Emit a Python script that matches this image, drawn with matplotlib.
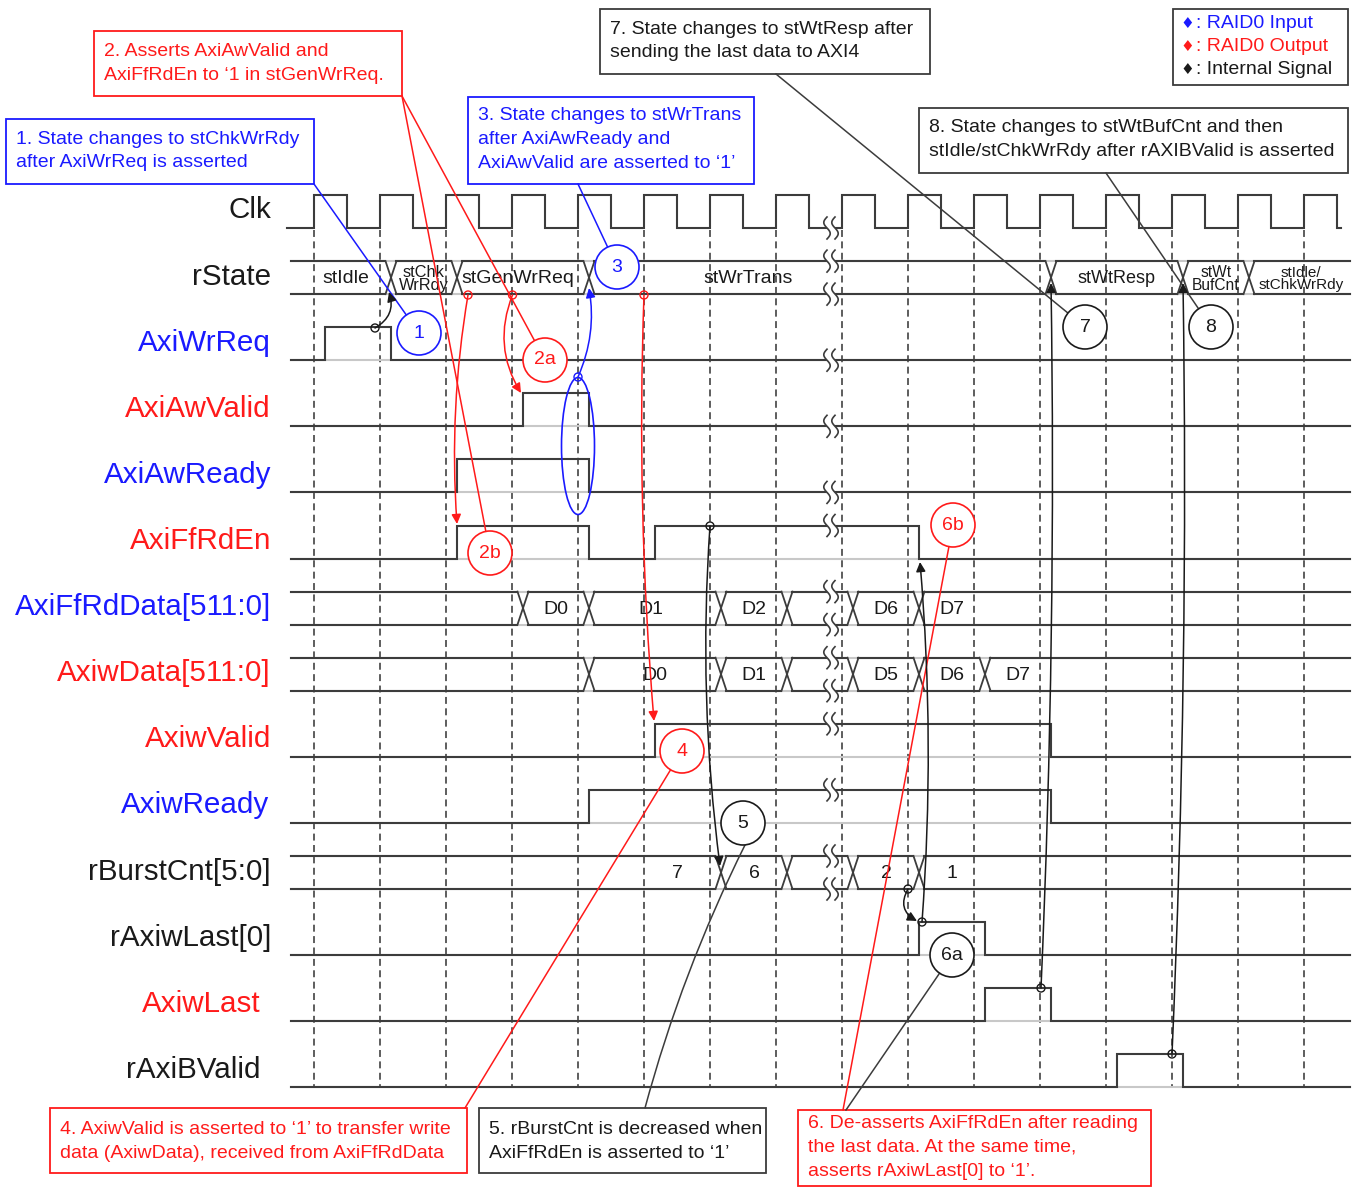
import numpy as np
import matplotlib
matplotlib.use('Agg')
import matplotlib.pyplot as plt
from matplotlib.patches import Ellipse, Circle, Rectangle, FancyArrowPatch, Polygon

plt.rcParams['font.family'] = ['Liberation Sans', 'DejaVu Sans']
plt.rcParams['lines.scale_dashes'] = False

# ---------------- data ----------------
signal_names = ['Clk', 'rState', 'AxiWrReq', 'AxiAwValid', 'AxiAwReady', 'AxiFfRdEn',
                'AxiFfRdData[511:0]', 'AxiwData[511:0]', 'AxiwValid', 'AxiwReady',
                'rBurstCnt[5:0]', 'rAxiwLast[0]', 'AxiwLast', 'rAxiBValid']
signal_roles = ['int', 'int', 'in', 'out', 'in', 'out', 'in', 'out', 'out', 'in',
                'int', 'int', 'out', 'int']
n_clock_edges = 16
break_after_edge = 7

# binary signals: clock edges after which the level toggles (start low)
wrreq_toggles = [0, 1]
awvalid_toggles = [3, 4]
awready_toggles = [2, 4]
ffrden_toggles = [2, 4, 5, 9]
wvalid_toggles = [5, 11]
wready_toggles = [4, 11]
rwlast_toggles = [9, 10]
wlast_toggles = [10, 11]
bvalid_toggles = [12, 13]

# bus signals: clock edges where the value changes, and the values
state_edges = [1, 2, 4, 11, 13, 14]
state_labels = ['stIdle', 'stChk\nWrRdy', 'stGenWrReq', 'stWrTrans', 'stWtResp',
                'stWt\nBufCnt', 'stIdle/\nstChkWrRdy']
ffrd_edges = [3, 4, 6, 7, 8, 9]
ffrd_labels = ['', 'D0', 'D1', 'D2', '', 'D6', 'D7']
wdata_edges = [4, 6, 7, 8, 9, 10]
wdata_labels = ['', 'D0', 'D1', '', 'D5', 'D6', 'D7']
burst_edges = [6, 7, 8, 9]
burst_labels = ['7', '6', '', '2', '1']

legend_items = [('in', 'RAID0 Input'), ('out', 'RAID0 Output'), ('int', 'Internal Signal')]

note1 = ['1. State changes to stChkWrRdy', 'after AxiWrReq is asserted']
note2 = ['2. Asserts AxiAwValid and', 'AxiFfRdEn to \u20181 in stGenWrReq.']
note3 = ['3. State changes to stWrTrans', 'after AxiAwReady and', 'AxiAwValid are asserted to \u20181\u2019']
note4 = ['4. AxiwValid is asserted to \u20181\u2019 to transfer write', 'data (AxiwData), received from AxiFfRdData']
note5 = ['5. rBurstCnt is decreased when', 'AxiFfRdEn is asserted to \u20181\u2019']
note6 = ['6. De-asserts AxiFfRdEn after reading', 'the last data. At the same time,', 'asserts rAxiwLast[0] to \u20181\u2019.']
note7 = ['7. State changes to stWtResp after', 'sending the last data to AXI4']
note8 = ['8. State changes to stWtBufCnt and then', 'stIdle/stChkWrRdy after rAXIBValid is asserted']

# ---------------- style / layout ----------------
W, H = 1361, 1187
BLUE = '#1a1aff'
RED = '#ff1a1a'
BLACK = '#1a1a1a'
LINE = '#3c3c3c'
LIGHT = '#c8c8c8'
role_color = {'in': BLUE, 'out': RED, 'int': BLACK}

X0, P, DLY = 314, 66, 11
XL, XR = 291, 1350
Y0, ROW, HT = 228, 66.1, 33
HW = 5.5
XBRK = 831
NOTE_FS = 14.0

fig = plt.figure(figsize=(W / 100, H / 100), dpi=100)
ax = fig.add_axes([0, 0, 1, 1])
ax.set_xlim(0, W)
ax.set_ylim(H, 0)
ax.axis('off')


def ex(k):
    return X0 + P * k + DLY


def low(i):
    return Y0 + ROW * i


def high(i):
    return Y0 + ROW * i - HT


# dashed clock edge lines
for k in range(n_clock_edges):
    ax.plot([X0 + P * k] * 2, [230, 1088], color='#505050', lw=1.3,
            ls=(0, (5, 3.2)), zorder=1)

# clock
xs, ys = [287], [low(0)]
for k in range(n_clock_edges):
    xr = X0 + P * k
    xs += [xr, xr, xr + 33, xr + 33]
    ys += [low(0), high(0), high(0), low(0)]
xs.append(1341)
ys.append(low(0))
ax.plot(xs, ys, color=LINE, lw=1.5, zorder=2, solid_joinstyle='miter')


def binary(i, toggles):
    ax.plot([XL, XR], [low(i), low(i)], color=LIGHT, lw=1.5, zorder=1.5)
    lvl = 0
    xs, ys = [XL], [low(i)]
    for k in toggles:
        x = ex(k)
        y0 = low(i) if lvl == 0 else high(i)
        lvl = 1 - lvl
        y1 = low(i) if lvl == 0 else high(i)
        xs += [x, x]
        ys += [y0, y1]
    xs.append(XR)
    ys.append(low(i) if lvl == 0 else high(i))
    ax.plot(xs, ys, color=LINE, lw=1.5, zorder=2, solid_joinstyle='miter')


def bus(i, edges, labels, fs=14, label_x=None, label_fs=None):
    top, bot = high(i), low(i)
    ax.plot([XL, XR], [top, top], color=LIGHT, lw=1.5, zorder=1.5)
    ax.plot([XL, XR], [bot, bot], color=LIGHT, lw=1.5, zorder=1.5)
    bounds = [XL] + [ex(k) for k in edges] + [XR]
    for s in range(len(bounds) - 1):
        a = bounds[s] + (HW if s > 0 else 0)
        b = bounds[s + 1] - (HW if s < len(edges) else 0)
        ax.plot([a, b], [top, top], color=LINE, lw=1.5, zorder=2)
        ax.plot([a, b], [bot, bot], color=LINE, lw=1.5, zorder=2)
        lab = labels[s]
        if lab:
            if label_x and s in label_x:
                cx = label_x[s]
            elif s == len(edges):
                cx = bounds[s] + 33
            else:
                cx = (bounds[s] + bounds[s + 1]) / 2
            f = fs
            ls = 1.2
            if '\n' in lab:
                ls = 0.82
            if label_fs and s in label_fs:
                f = label_fs[s]
            ax.text(cx, (top + bot) / 2 + 1, lab, ha='center', va='center', fontsize=f,
                    color=BLACK, linespacing=ls, zorder=5)
    for k in edges:
        x = ex(k)
        ax.plot([x - HW, x + HW], [top, bot], color=LINE, lw=1.3, zorder=2)
        ax.plot([x - HW, x + HW], [bot, top], color=LINE, lw=1.3, zorder=2)


bus(1, state_edges, state_labels, label_x={0: 346, 2: 518, 3: 748, 6: 1301},
    label_fs={1: 11.8, 4: 13, 5: 11.2, 6: 11})
binary(2, wrreq_toggles)
binary(3, awvalid_toggles)
binary(4, awready_toggles)
binary(5, ffrden_toggles)
bus(6, ffrd_edges, ffrd_labels, label_x={2: 651})
bus(7, wdata_edges, wdata_labels)
binary(8, wvalid_toggles)
binary(9, wready_toggles)
bus(10, burst_edges, burst_labels, label_x={0: 677})
binary(11, rwlast_toggles)
binary(12, wlast_toggles)
binary(13, bvalid_toggles)


# break marks
def brk(xc, yc):
    t = np.linspace(0, 1, 40)
    hh = 11
    yy = yc - hh + 2 * hh * t
    xa = xc - 4 - 3.2 * np.sin(2 * np.pi * t)
    xb = xc + 4 - 3.2 * np.sin(2 * np.pi * t)
    poly = np.column_stack([np.concatenate([xa, xb[::-1]]), np.concatenate([yy, yy[::-1]])])
    ax.add_patch(Polygon(poly, closed=True, facecolor='white', edgecolor='none', zorder=3))
    ax.plot(xa, yy, color=LINE, lw=1.2, zorder=4)
    ax.plot(xb, yy, color=LINE, lw=1.2, zorder=4)


brk(XBRK, low(0))
for i, tg in [(2, wrreq_toggles), (3, awvalid_toggles), (4, awready_toggles),
              (5, ffrden_toggles), (8, wvalid_toggles), (9, wready_toggles)]:
    lvl = sum(1 for k in tg if k <= break_after_edge) % 2
    brk(XBRK, high(i) if lvl else low(i))
for i in (1, 6, 7, 10):
    brk(XBRK, high(i))
    brk(XBRK, low(i))

# signal names
name_x = {12: 261, 13: 261, 9: 269}
for i, nm in enumerate(signal_names):
    ax.text(name_x.get(i, 271), low(i) - HT / 2 - 1, nm, ha='right', va='center',
            fontsize=21.3, color=role_color[signal_roles[i]])


# note boxes
def box(x0, y0, x1, y1, lines, color, tc, ty, fs=NOTE_FS):
    ax.add_patch(Rectangle((x0, y0), x1 - x0, y1 - y0, fill=True, facecolor='white',
                           edgecolor=color, lw=1.3, zorder=6))
    for j, ln in enumerate(lines):
        ax.text(x0 + 10, ty + 23.5 * j, ln, ha='left', va='center', fontsize=fs,
                color=tc, zorder=7)


box(6, 119, 314, 184, note1, BLUE, BLUE, 139)
box(94, 31, 402, 96, note2, RED, RED, 52)
box(468, 97, 754, 184, note3, BLUE, BLUE, 116)
box(600, 9, 930, 74, note7, LINE, BLACK, 29)
box(919, 108, 1348, 173, note8, LINE, BLACK, 128)
box(50, 1108, 467, 1173, note4, RED, RED, 1130)
box(479, 1108, 766, 1173, note5, LINE, BLACK, 1130)
box(798, 1110, 1151, 1186, note6, RED, RED, 1124)

# legend
ax.add_patch(Rectangle((1173, 9), 175, 76, fill=True, facecolor='white', edgecolor=LINE,
                       lw=1.3, zorder=6))
for j, (role, txt) in enumerate(legend_items):
    yy = 23 + 23.5 * j
    ax.text(1187, yy, '\u2666', ha='center', va='center', fontsize=11,
            color=role_color[role], family='DejaVu Sans', zorder=7)
    ax.text(1196, yy, ': ' + txt, ha='left', va='center', fontsize=NOTE_FS,
            color=role_color[role], zorder=7)

# numbered circles
circles = [('1', 419, 333, BLUE), ('2a', 545, 360, RED), ('2b', 490, 553, RED),
           ('3', 617, 267, BLUE), ('4', 682, 751, RED), ('5', 743, 823, BLACK),
           ('6a', 952, 955, BLACK), ('6b', 953, 525, RED), ('7', 1085, 327, BLACK),
           ('8', 1211, 327, BLACK)]
cpos = {}
for lab, cx, cy, c in circles:
    ax.add_patch(Circle((cx, cy), 22, facecolor='white', edgecolor=c, lw=1.2, zorder=8))
    ax.text(cx, cy, lab, ha='center', va='center', fontsize=14, color=c, zorder=9)
    cpos[lab] = (cx, cy, c)


def leader(x0, y0, lab, color=None):
    cx, cy, c = cpos[lab]
    d = np.hypot(cx - x0, cy - y0)
    ex_, ey_ = cx - 22 * (cx - x0) / d, cy - 22 * (cy - y0) / d
    ax.plot([x0, ex_], [y0, ey_], color=color or c, lw=1.1, zorder=7)


leader(314, 184, '1')
leader(402, 96, '2a')
leader(402, 96, '2b')
leader(578, 184, '3')
leader(776, 74, '7', LINE)
leader(1106, 173, '8', LINE)
leader(465, 1108, '4')
leader(843, 1110, '6b')
leader(846, 1110, '6a', LINE)
# curved leader for 5
ax.add_patch(FancyArrowPatch((645, 1108), (745, 845), connectionstyle='arc3,rad=-0.05',
                             arrowstyle='-', lw=1.1, color=LINE, zorder=7,
                             shrinkA=0, shrinkB=0))

# blue ellipse
ax.add_patch(Ellipse((578, 446), 33, 137, fill=False, edgecolor=BLUE, lw=1.2, zorder=7))

# cause-effect arrows
arrows = [((375, 328), (389, 292), BLACK, 0.4),
          ((468, 295), (457, 524), RED, 0.06),
          ((512.5, 295), (521, 393), RED, 0.25),
          ((578, 377), (589, 288), BLUE, 0.15),
          ((644, 295), (654, 721), RED, 0.03),
          ((710, 526), (720, 866), BLACK, 0.05),
          ((908, 889), (917, 921), BLACK, 0.5),
          ((922, 922), (920, 562), BLACK, 0.04),
          ((1041, 988), (1051, 283), BLACK, 0.015),
          ((1172, 1054), (1183, 283), BLACK, 0.015)]
for (a, b, c, r) in arrows:
    ax.add_patch(FancyArrowPatch(a, b, connectionstyle=f'arc3,rad={r}', arrowstyle='-|>',
                                 mutation_scale=14, lw=1.1, color=c, zorder=7,
                                 shrinkA=0, shrinkB=0))
    ax.add_patch(Circle(a, 4, facecolor='none', edgecolor=c, lw=1.0, zorder=7))

fig.savefig('out.png', dpi=100)
